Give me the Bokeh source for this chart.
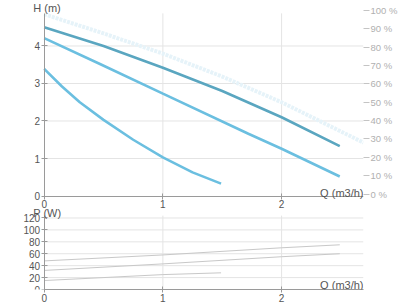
from bokeh.plotting import figure
from bokeh.models import Range1d, LinearAxis, FixedTicker, Label
from bokeh.embed import file_html
from bokeh.resources import INLINE

# ---- data ----
q_high = [0, 0.5, 1.0, 1.5, 2.0, 2.49]
h_high = [4.50, 4.00, 3.42, 2.80, 2.10, 1.33]
q_mid = [0, 0.47, 1.0, 1.72, 2.0, 2.49]
h_mid = [4.21, 3.52, 2.73, 1.66, 1.26, 0.52]
q_low = [0, 0.15, 0.3, 0.5, 0.75, 1.0, 1.25, 1.49]
h_low = [3.39, 2.92, 2.50, 2.03, 1.50, 1.03, 0.63, 0.33]
q_eff = [0, 0.5, 1.0, 1.5, 2.0, 2.69]
eff = [98, 87.5, 76.5, 64, 50, 28]

q_p_high = [0, 1.0, 2.0, 2.49]
p_high = [48, 58, 70, 75]
q_p_mid = [0, 1.0, 2.0, 2.49]
p_mid = [32, 43, 55, 60]
q_p_low = [0, 1.0, 1.49]
p_low = [15, 25, 28]

x_ticks = [0, 1, 2]
h_ticks = [0, 1, 2, 3, 4]
pct_ticks = list(range(0, 101, 10))
p_ticks = list(range(0, 121, 20))

Q_MAX = 2.69
H_TOP = 4.87
P_TOP = 124

FONT = "Liberation Sans"
TXT = "#555555"
AX = "#9a9a9a"
GRID = "#e4e4e4"


def style_axis(ax, ticks):
    ax.ticker = FixedTicker(ticks=ticks)
    ax.axis_line_color = AX
    ax.major_tick_line_color = AX
    ax.major_tick_in = 3
    ax.major_tick_out = 3
    ax.minor_tick_line_color = None
    ax.major_label_text_font = FONT
    ax.major_label_text_font_size = "10px"
    ax.major_label_text_color = TXT
    ax.major_label_standoff = 1


# one canvas holds both panels; the upper uses the H / % scales, the lower the P scale
p = figure(width=400, height=306, x_range=Range1d(-0.368, Q_MAX), y_range=Range1d(-2.493, 5.213),
           output_backend="svg", toolbar_location=None,
           min_border_left=0, min_border_right=35, min_border_top=0, min_border_bottom=17)
p.outline_line_color = None
p.xgrid.visible = False
p.ygrid.visible = False
p.extra_y_ranges = {"pct": Range1d(-52.04, 105.45), "P": Range1d(0, 485)}

# bottom x axis (power panel)
style_axis(p.xaxis[0], x_ticks)
p.xaxis[0].bounds = (0, Q_MAX)

# top x axis (head panel), fixed at H = 0
xa2 = LinearAxis(fixed_location=0, bounds=(0, Q_MAX))
style_axis(xa2, x_ticks)
p.add_layout(xa2, "below")

# head axis
style_axis(p.yaxis[0], h_ticks)
p.yaxis[0].fixed_location = 0
p.yaxis[0].bounds = (0, H_TOP)

# power axis
pa = LinearAxis(y_range_name="P", fixed_location=0, bounds=(0, P_TOP))
style_axis(pa, p_ticks)
p.add_layout(pa, "left")

# efficiency % axis
pax = LinearAxis(y_range_name="pct", ticker=FixedTicker(ticks=pct_ticks),
                 major_label_overrides={v: f"{v} %" for v in pct_ticks})
pax.axis_line_color = None
pax.major_tick_line_color = "#c4c4c4"
pax.major_tick_in = 0
pax.major_tick_out = 6
pax.minor_tick_line_color = None
pax.major_label_text_font = FONT
pax.major_label_text_font_size = "9.5px"
pax.major_label_text_color = "#b0b0b0"
pax.major_label_standoff = 1
p.add_layout(pax, "right")

# grid lines (limited to each panel)
hg = [t for t in h_ticks if t > 0]
p.segment(x0=[0] * len(hg), x1=[Q_MAX] * len(hg), y0=hg, y1=hg, line_color=GRID, line_width=1)
vg = [t for t in x_ticks if t > 0]
p.segment(x0=vg, x1=vg, y0=[0] * len(vg), y1=[H_TOP] * len(vg), line_color=GRID, line_width=1)
pg = [t for t in p_ticks if t > 0]
p.segment(x0=[0] * len(pg), x1=[Q_MAX] * len(pg), y0=pg, y1=pg, line_color=GRID, line_width=1,
          y_range_name="P")
p.segment(x0=vg, x1=vg, y0=[0] * len(vg), y1=[P_TOP] * len(vg), line_color=GRID, line_width=1,
          y_range_name="P")

# curves
p.line(q_eff, eff, y_range_name="pct", line_color="#e6f3f9", line_width=4, line_dash="3 1")
p.line(q_high, h_high, line_color="#5aa6c0", line_width=2.6)
p.line(q_mid, h_mid, line_color="#6bbfe0", line_width=2.6)
p.line(q_low, h_low, line_color="#6bbfe0", line_width=2.6)

p.line(q_p_high, p_high, y_range_name="P", line_color="#c8c8c8", line_width=1)
p.line(q_p_mid, p_mid, y_range_name="P", line_color="#c8c8c8", line_width=1)
p.line(q_p_low, p_low, y_range_name="P", line_color="#c8c8c8", line_width=1)

# axis titles
p.add_layout(Label(x=-0.092, y=5.0, text="H (m)", text_baseline="middle",
                   text_font=FONT, text_font_size="11px", text_color=TXT))
p.add_layout(Label(x=Q_MAX, y=0.08, text="Q (m3/h)", text_align="right",
                   text_baseline="alphabetic", text_font=FONT, text_font_size="11px",
                   text_color=TXT))
p.add_layout(Label(x=-0.092, y=129, y_range_name="P", text="P (W)", text_baseline="middle",
                   text_font=FONT, text_font_size="11px", text_color=TXT))
p.add_layout(Label(x=Q_MAX, y=8, y_range_name="P", text="Q (m3/h)", text_align="right",
                   text_baseline="alphabetic", text_font=FONT, text_font_size="11px",
                   text_color=TXT))

open("out.html", "w").write(file_html(p, INLINE))
